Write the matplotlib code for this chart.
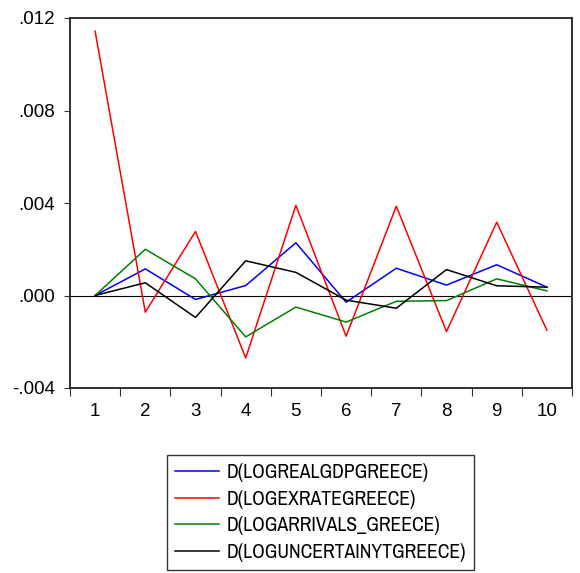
import numpy as np
import matplotlib
matplotlib.use("Agg")
from matplotlib import pyplot as plt
from matplotlib import font_manager
from matplotlib.ticker import FixedLocator

# Impulse response periods and series values
periods = np.arange(1, 11)
gdp = [0.0, 0.00115, -0.00017, 0.00043, 0.00228, -0.00029, 0.00118, 0.00045, 0.00133, 0.00036]
exrate = [0.01143, -0.00072, 0.00277, -0.0027, 0.0039, -0.00176, 0.00386, -0.00156, 0.00317, -0.0015]
arrivals = [0.0, 0.002, 0.00072, -0.00179, -0.0005, -0.00115, -0.00025, -0.00022, 0.00072, 0.0002]
uncertainty = [0.0, 0.00055, -0.00095, 0.0015, 0.001, -0.0002, -0.00055, 0.00112, 0.00042, 0.00036]

labels = ['D(LOGREALGDPGREECE)', 'D(LOGEXRATEGREECE)',
          'D(LOGARRIVALS_GREECE)', 'D(LOGUNCERTAINYTGREECE)']
colors = ['#0000ff', '#ff0000', '#008000', '#000000']
yticks = [-0.004, 0.0, 0.004, 0.008, 0.012]
ytick_labels = ['-.004', '.000', '.004', '.008', '.012']

plt.rcParams['font.family'] = ['Liberation Sans', 'DejaVu Sans']

# narrow face for the legend, if one is installed
narrow = [f for f in font_manager.fontManager.ttflist
          if ('Narrow' in f.name or 'Condensed' in f.name or 'condensed' in str(f.stretch))
          and f.style == 'normal' and f.weight in (400, 'normal', 'regular')]
narrow.sort(key=lambda f: (0 if 'Narrow' in f.name else 1, f.name))
if narrow:
    legend_font = font_manager.FontProperties(fname=narrow[0].fname, size=14.2)
else:
    legend_font = font_manager.FontProperties(family='Liberation Sans', size=11.4)

fig = plt.figure(figsize=(5.8, 5.73), dpi=100)
ax = fig.add_axes([70 / 580, 1 - 388 / 573, 502 / 580, 370 / 573])

ax.axhline(0, color='black', linewidth=0.8, zorder=1)
lines = []
for series, color, label in zip([gdp, exrate, arrivals, uncertainty], colors, labels):
    ln, = ax.plot(periods, series, color=color, linewidth=1.1, label=label, zorder=2)
    lines.append(ln)

ax.set_xlim(0.5, 10.5)
ax.set_ylim(-0.004, 0.012)

ax.set_xticks(periods)
ax.set_xticklabels([str(p) for p in periods], fontsize=13.5)
ax.xaxis.set_minor_locator(FixedLocator(np.arange(0.5, 11, 1.0)))
ax.tick_params(axis='x', which='major', length=0, pad=11)
ax.tick_params(axis='x', which='minor', length=6, width=0.8, direction='out', color='#333333')

ax.set_yticks(yticks)
ax.set_yticklabels(ytick_labels, fontsize=13.5)
ax.tick_params(axis='y', length=4, width=0.8, direction='out', pad=7, color='#333333')

for spine in ax.spines.values():
    spine.set_color('#222222')
    spine.set_linewidth(1.3)

leg = fig.legend(handles=lines, labels=labels, loc='upper left',
                 bbox_to_anchor=(167 / 580, 1 - 455 / 573), borderaxespad=0,
                 fancybox=False, framealpha=1, edgecolor='#333333',
                 handlelength=2.2, handletextpad=0.4, labelspacing=0.38,
                 borderpad=0.42, prop=legend_font)
leg.get_frame().set_linewidth(1.0)

fig.savefig('out.png', dpi=100)
